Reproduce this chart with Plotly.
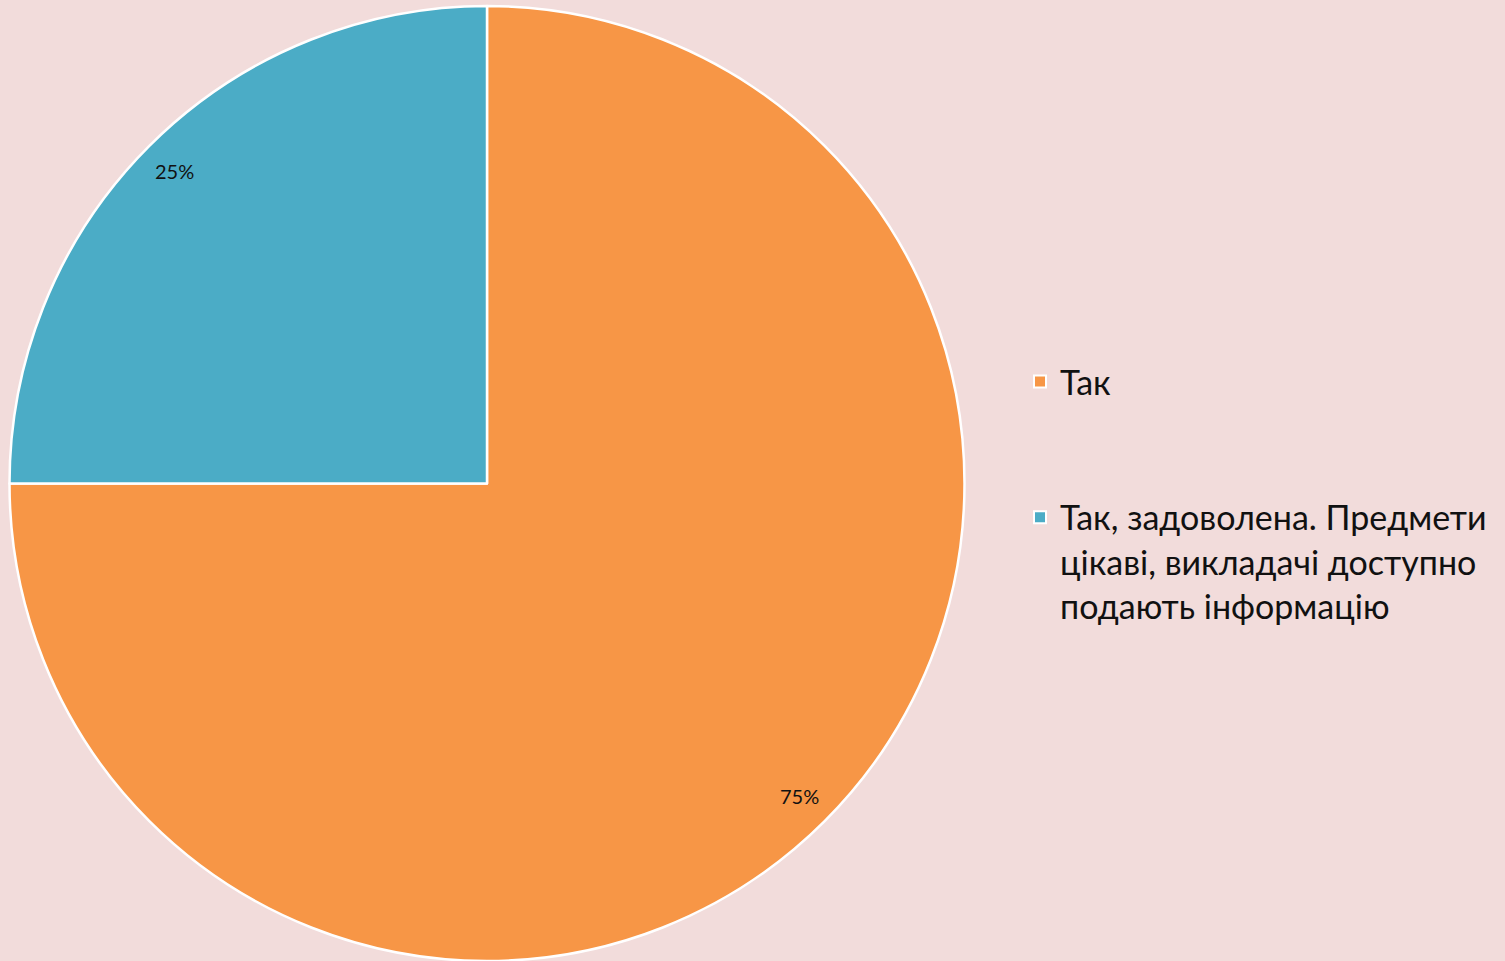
import math
import plotly.graph_objects as go

labels = ["Так", "Так, задоволена. Предмети<br>цікаві, викладачі доступно<br>подають інформацію"]
values = [75, 25]
colors = ["#F79646", "#4BACC6"]

# legend entries: pad the single-line entry so the items are spaced apart
legend_labels = [labels[0] + "<br> <br> ", labels[1]]

W, H = 1505, 961
dom_x = [9.5 / W, 964.5 / W]
dom_y = [0.0, 955 / H]

fig = go.Figure(go.Pie(
    labels=legend_labels, values=values, sort=False, direction="clockwise", rotation=0,
    marker=dict(colors=colors, line=dict(color="white", width=2.5)),
    textinfo="none", hoverinfo="percent",
    domain=dict(x=dom_x, y=dom_y),
))

# percentage labels placed along each slice bisector, near the rim
cx = (dom_x[0] + dom_x[1]) / 2 * W
cy = (dom_y[0] + dom_y[1]) / 2 * H
R = min((dom_x[1] - dom_x[0]) * W, (dom_y[1] - dom_y[0]) * H) / 2
total = sum(values)
cum = 0
annotations = []
for v in values:
    mid = (cum + v / 2) / total * 2 * math.pi
    cum += v
    px = cx + 0.925 * R * math.sin(mid)
    py = cy + 0.925 * R * math.cos(mid)
    annotations.append(dict(
        x=px / W, y=py / H, xref="paper", yref="paper", showarrow=False,
        xanchor="center", yanchor="middle",
        text=f"{round(v / total * 100)}%",
        font=dict(family="Lato, Carlito, sans-serif", size=20, color="#111111"),
    ))

fig.update_layout(
    width=W, height=H,
    margin=dict(l=0, r=0, t=0, b=0),
    paper_bgcolor="#F2DCDB", plot_bgcolor="#F2DCDB",
    annotations=annotations,
    showlegend=True,
    legend=dict(
        x=1020 / W, xanchor="left", y=1 - 353 / H, yanchor="top",
        valign="top", bgcolor="rgba(0,0,0,0)",
        font=dict(family="Lato, Carlito, sans-serif", size=34, color="#111111"),
        tracegroupgap=0, itemsizing="constant",
    ),
)

fig.write_html(
    "out.html",
    config={"displayModeBar": False},
    post_script="document.body.style.margin='0';document.body.style.overflow='hidden';",
)
